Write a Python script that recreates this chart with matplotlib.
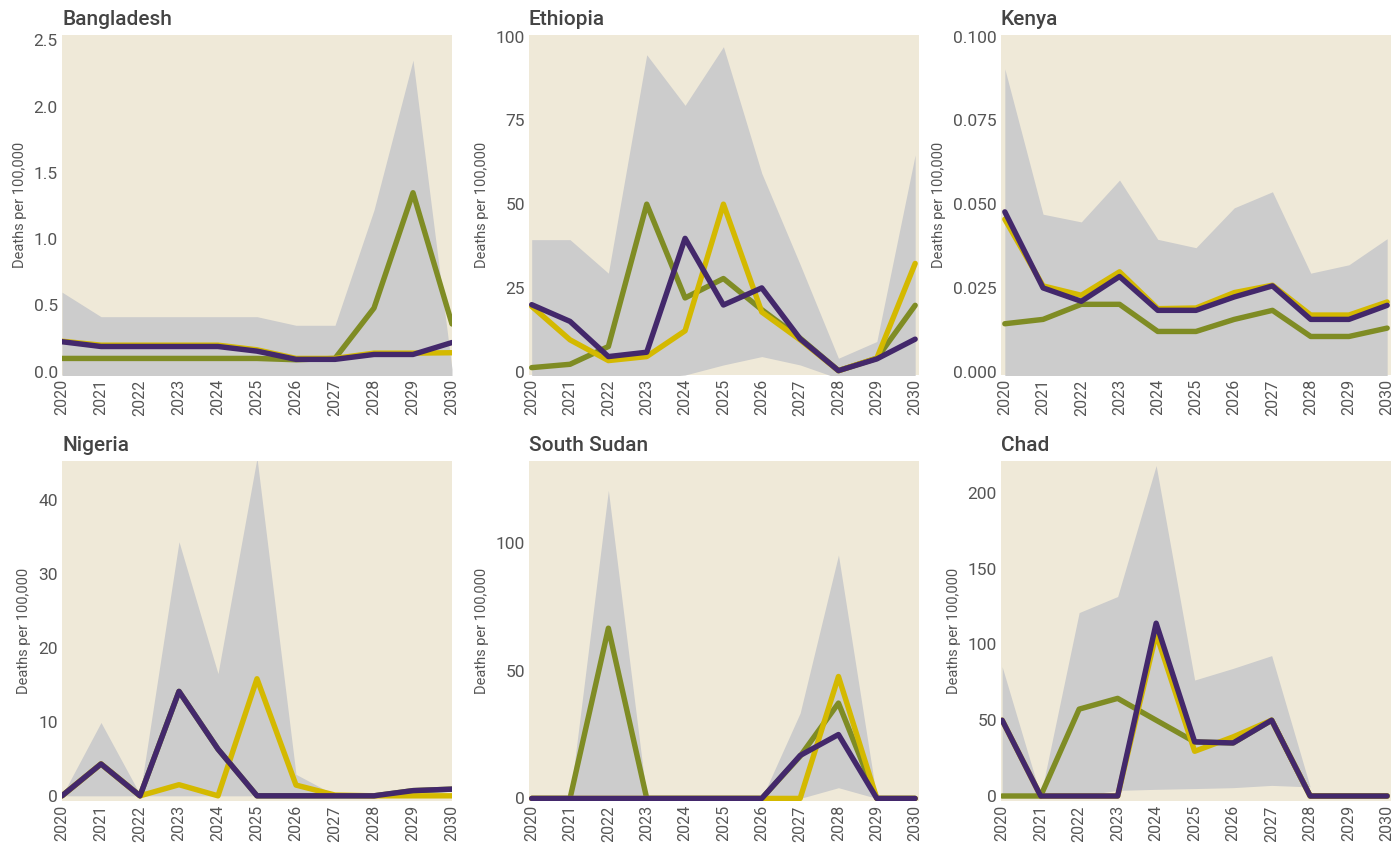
import matplotlib
matplotlib.use("Agg")
import matplotlib.pyplot as plt
import matplotlib.ticker as mticker
import numpy as np

plt.rcParams['font.family'] = ['Roboto', 'DejaVu Sans']

years = list(range(2020, 2031))
countries = ["Bangladesh", "Ethiopia", "Kenya", "Nigeria", "South Sudan", "Chad"]

# olive series
green = {
    "Bangladesh": [0.10, 0.10, 0.10, 0.10, 0.10, 0.10, 0.09, 0.10, 0.48, 1.35, 0.36],
    "Ethiopia": [1.2, 2.2, 7.5, 50, 22, 27.8, 18.5, 10, 0.3, 4, 19.8],
    "Kenya": [0.0143, 0.0156, 0.0201, 0.0201, 0.012, 0.012, 0.0156, 0.0183, 0.0105, 0.0105, 0.013],
    "Nigeria": [0, 4.3, 0, 14.1, 6.3, 0, 0, 0, 0, 0.7, 0.9],
    "South Sudan": [0, 0, 66.6, 0, 0, 0, 0, 16.5, 37.3, 0, 0],
    "Chad": [0, 0, 57.3, 64.4, 50, 35.7, 35, 50, 0, 0, 0],
}
# yellow series
yellow = {
    "Bangladesh": [0.23, 0.20, 0.20, 0.20, 0.20, 0.165, 0.10, 0.10, 0.14, 0.14, 0.143],
    "Ethiopia": [19.5, 9.5, 3.3, 4.5, 12.2, 50, 17.8, 9.5, 0.3, 4, 32.3],
    "Kenya": [0.0455, 0.0256, 0.0228, 0.0298, 0.0188, 0.019, 0.0236, 0.0258, 0.0169, 0.0169, 0.0208],
    "Nigeria": [0, 4.3, 0, 1.5, 0, 15.8, 1.45, 0.1, 0, 0, 0],
    "South Sudan": [0, 0, 0, 0, 0, 0, 0, 0, 47.7, 0, 0],
    "Chad": [50, 0, 0, 0, 107, 29.5, 39, 50, 0, 0, 0],
}
# purple series
purple = {
    "Bangladesh": [0.226, 0.19, 0.19, 0.19, 0.19, 0.155, 0.093, 0.093, 0.13, 0.13, 0.22],
    "Ethiopia": [20, 15, 4.5, 5.8, 39.8, 19.9, 25, 9.8, 0.3, 3.8, 9.7],
    "Kenya": [0.0477, 0.025, 0.021, 0.0284, 0.0183, 0.0183, 0.0223, 0.0256, 0.0156, 0.0156, 0.0198],
    "Nigeria": [0, 4.3, 0, 14.1, 6.3, 0, 0, 0, 0, 0.7, 0.9],
    "South Sudan": [0, 0, 0, 0, 0, 0, 0, 16.8, 25, 0, 0],
    "Chad": [50, 0, 0, 0, 114, 35.7, 35, 50, 0, 0, 0],
}
# uncertainty band
band_hi = {
    "Bangladesh": [0.60, 0.415, 0.415, 0.415, 0.415, 0.415, 0.35, 0.35, 1.22, 2.35, 0.02],
    "Ethiopia": [39.4, 39.4, 29.4, 94.6, 79.5, 97, 59.2, 32, 4, 9, 64.7],
    "Kenya": [0.0904, 0.047, 0.0447, 0.0572, 0.0395, 0.037, 0.0489, 0.0537, 0.0294, 0.0319, 0.0397],
    "Nigeria": [0, 9.9, 0.2, 34.3, 16.5, 45.6, 2.9, 0.1, 0, 0, 0],
    "South Sudan": [0, 0, 120.5, 0, 0, 0, 0, 33.4, 95.2, 0, 0],
    "Chad": [85.3, 0, 121, 131.6, 218, 76.5, 84.2, 92.6, 6, 0, 0],
}
band_lo = {
    "Bangladesh": [-0.05] * 11,
    "Ethiopia": [-2, -2, -2, -2, -1, 2, 4.5, 2, -2, -2, -2],
    "Kenya": [-0.002] * 11,
    "Nigeria": [0] * 11,
    "South Sudan": [0, 0, 0, 0, 0, 0, 0, 0, 4.2, 0, 0],
    "Chad": [0, 0, 0, 3.7, 4.4, 4.9, 5.5, 7, 6, 0, 0],
}

ylims = {
    "Bangladesh": (-0.025, 2.54),
    "Ethiopia": (-1, 100.5),
    "Kenya": (-0.001, 0.1005),
    "Nigeria": (-0.7, 45.2),
    "South Sudan": (-1, 132),
    "Chad": (-3.3, 221),
}
yticks = {
    "Bangladesh": [0, 0.5, 1.0, 1.5, 2.0, 2.5],
    "Ethiopia": [0, 25, 50, 75, 100],
    "Kenya": [0, 0.025, 0.05, 0.075, 0.1],
    "Nigeria": [0, 10, 20, 30, 40],
    "South Sudan": [0, 50, 100],
    "Chad": [0, 50, 100, 150, 200],
}
yfmt = {"Bangladesh": "%.1f", "Kenya": "%.3f"}
xlims = {
    "Bangladesh": (2020, 2030),
    "Ethiopia": (2019.93, 2030.1),
    "Kenya": (2019.9, 2030.1),
    "Nigeria": (2020, 2030),
    "South Sudan": (2019.93, 2030.1),
    "Chad": (2019.97, 2030.1),
}

BG = "#efe9d8"
BAND = "#cccccc"
C_GREEN = "#7f8c24"
C_YELLOW = "#d4b900"
C_PURPLE = "#43286b"
TXT = "#555555"

W, H = 1398, 846
fig = plt.figure(figsize=(W / 100, H / 100), dpi=100)

col_left = [62, 529, 1001]
row_top = [35, 461]
aw, ah = 390, 340

for i, name in enumerate(countries):
    r, c = divmod(i, 3)
    ax = fig.add_axes([col_left[c] / W, 1 - (row_top[r] + ah) / H, aw / W, ah / H])
    ax.set_facecolor(BG)
    ax.fill_between(years, band_lo[name], band_hi[name], color=BAND, lw=0, zorder=1)
    lw = 3.9
    ax.plot(years, green[name], color=C_GREEN, lw=lw, solid_capstyle="round", solid_joinstyle="round", zorder=2)
    ax.plot(years, yellow[name], color=C_YELLOW, lw=lw, solid_capstyle="round", solid_joinstyle="round", zorder=3)
    ax.plot(years, purple[name], color=C_PURPLE, lw=lw, solid_capstyle="round", solid_joinstyle="round", zorder=4)
    ax.set_xlim(*xlims[name])
    ax.set_ylim(*ylims[name])
    ax.set_xticks(years)
    ax.set_xticklabels([str(y) for y in years], rotation=90, fontsize=11.5, color=TXT)
    ax.set_yticks(yticks[name])
    if name in yfmt:
        ax.yaxis.set_major_formatter(mticker.FormatStrFormatter(yfmt[name]))
    for lab in ax.get_yticklabels():
        lab.set_fontsize(12.5)
        lab.set_color(TXT)
    ax.tick_params(length=0, pad=3)
    for s in ax.spines.values():
        s.set_visible(False)
    ax.set_ylabel("Deaths per 100,000", fontsize=10.5, color=TXT, labelpad=5)
    ax.set_title(name, loc="left", fontsize=15, fontweight="medium", color="#444444", pad=7)

fig.savefig("out.png", dpi=100, facecolor="white")
